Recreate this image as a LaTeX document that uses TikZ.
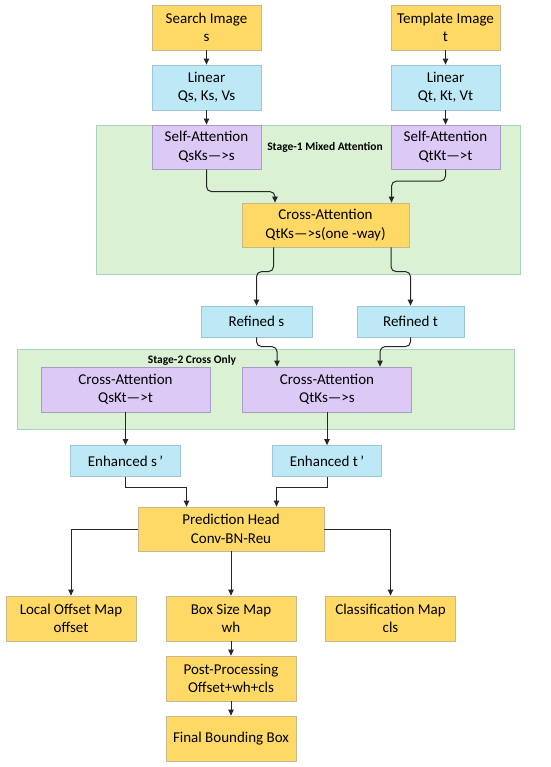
\documentclass[tikz,border=0pt]{standalone}
\usepackage{fontspec}
\setmainfont{Carlito}
\usetikzlibrary{arrows.meta}
\definecolor{ylw}{HTML}{FFD966}
\definecolor{ylwd}{HTML}{C9B98A}
\definecolor{blu}{HTML}{BDE9F7}
\definecolor{blud}{HTML}{9CC6D6}
\definecolor{prp}{HTML}{DCC9F6}
\definecolor{prpd}{HTML}{A99CC4}
\definecolor{grn}{HTML}{DAF1D4}
\definecolor{grnd}{HTML}{A9D2BC}
\definecolor{lnc}{HTML}{262626}
\tikzset{
  box/.style={draw, line width=0.8pt, align=center, inner sep=0pt,
    font=\fontsize{15}{18.5}\selectfont},
  ybox/.style={box, fill=ylw, draw=ylwd},
  bbox/.style={box, fill=blu, draw=blud},
  pbox/.style={box, fill=prp, draw=prpd},
  gbox/.style={draw=grnd, fill=grn, line width=0.8pt, inner sep=0pt},
  lbl/.style={font=\fontsize{11.5}{13}\selectfont\bfseries, inner sep=0pt},
  arr/.style={draw=lnc, line width=1pt, -{Triangle[length=6pt,width=5.5pt]}},
}
\begin{document}
\begin{tikzpicture}[x=1pt,y=-1pt]
\useasboundingbox[fill=white] (0,0) rectangle (550,767);
% containers
\node[gbox, minimum width=424pt, minimum height=149pt] (st1) at (308,199.5) {};
\node[gbox, minimum width=497pt, minimum height=80pt] (st2) at (265.5,389) {};
\node[lbl] (l1) at (325,147) {Stage-1 Mixed Attention};
\node[lbl] (l2) at (192,360) {Stage-2 Cross Only};
% boxes
\node[ybox, minimum width=109pt, minimum height=45pt] (search) at (206.5,27.5) {Search Image\\s};
\node[ybox, minimum width=109pt, minimum height=45pt] (templ) at (445.5,27.5) {Template Image\\t};
\node[bbox, minimum width=109pt, minimum height=45pt] (linS) at (206.5,87.5) {Linear\\Qs, Ks, Vs};
\node[bbox, minimum width=109pt, minimum height=45pt] (linT) at (445.5,87.5) {Linear\\Qt, Kt, Vt};
\node[pbox, minimum width=109pt, minimum height=44pt] (selfS) at (206.5,147) {Self-Attention\\QsKs—>s};
\node[pbox, minimum width=109pt, minimum height=44pt] (selfT) at (445.5,147) {Self-Attention\\QtKt—>t};
\node[ybox, minimum width=167pt, minimum height=44pt] (cross1) at (325.5,225) {Cross-Attention\\QtKs—>s(one -way)};
\node[bbox, minimum width=111pt, minimum height=31pt] (refS) at (256.5,321.5) {Refined s};
\node[bbox, minimum width=107pt, minimum height=31pt] (refT) at (410.5,321.5) {Refined t};
\node[pbox, minimum width=169pt, minimum height=45pt] (crossL) at (125.5,389.5) {Cross-Attention\\QsKt—>t};
\node[pbox, minimum width=169pt, minimum height=45pt] (crossR) at (327,389.5) {Cross-Attention\\QtKs—>s};
\node[bbox, minimum width=110pt, minimum height=31pt] (enhS) at (125.5,461) {Enhanced s\,’};
\node[bbox, minimum width=109pt, minimum height=31pt] (enhT) at (327,461) {Enhanced t\,’};
\node[ybox, minimum width=186pt, minimum height=44pt] (pred) at (231,529) {Prediction Head\\Conv-BN-Reu};
\node[ybox, minimum width=130pt, minimum height=45pt] (local) at (71,618.5) {Local Offset Map\\offset};
\node[ybox, minimum width=130pt, minimum height=45pt] (bsize) at (231,618.5) {Box Size Map\\wh};
\node[ybox, minimum width=130pt, minimum height=45pt] (cls) at (390.5,618.5) {Classification Map\\cls};
\node[ybox, minimum width=130pt, minimum height=45pt] (post) at (231,678.5) {Post-Processing\\Offset+wh+cls};
\node[ybox, minimum width=130pt, minimum height=45pt] (final) at (231,738.5) {Final Bounding Box};
% connectors
\draw[arr] (search) -- (linS);
\draw[arr] (templ) -- (linT);
\draw[arr] (linS) -- (selfS);
\draw[arr] (linT) -- (selfT);
\draw[arr, rounded corners=5pt] (selfS.south) |- ([xshift=-50.5pt,yshift=11pt]cross1.north) -- ([xshift=-50.5pt]cross1.north);
\draw[arr, rounded corners=5pt] (selfT.south) |- ([xshift=66pt,yshift=21.5pt]cross1.north) -- ([xshift=66pt]cross1.north);
\draw[arr, rounded corners=5pt] ([xshift=-52pt]cross1.south) |- ([yshift=34pt]refS.north) -- (refS.north);
\draw[arr, rounded corners=5pt] ([xshift=65.5pt]cross1.south) |- ([yshift=34pt]refT.north) -- (refT.north);
\draw[arr, rounded corners=5pt] (refS.south) |- ([xshift=-50pt,yshift=20pt]crossR.north) -- ([xshift=-50pt]crossR.north);
\draw[arr, rounded corners=5pt] (refT.south) |- ([xshift=53pt,yshift=20pt]crossR.north) -- ([xshift=53pt]crossR.north);
\draw[arr] (crossL) -- (enhS);
\draw[arr] (crossR) -- (enhT);
\draw[arr] (enhS.south) |- ([xshift=-44.5pt,yshift=19pt]pred.north) -- ([xshift=-44.5pt]pred.north);
\draw[arr] (enhT.south) |- ([xshift=45.5pt,yshift=19pt]pred.north) -- ([xshift=45.5pt]pred.north);
\draw[arr] (pred.west) -| (local.north);
\draw[arr] (pred) -- (bsize);
\draw[arr] (pred.east) -| (cls.north);
\draw[arr] (bsize) -- (post);
\draw[arr] (post) -- (final);
\end{tikzpicture}
\end{document}
